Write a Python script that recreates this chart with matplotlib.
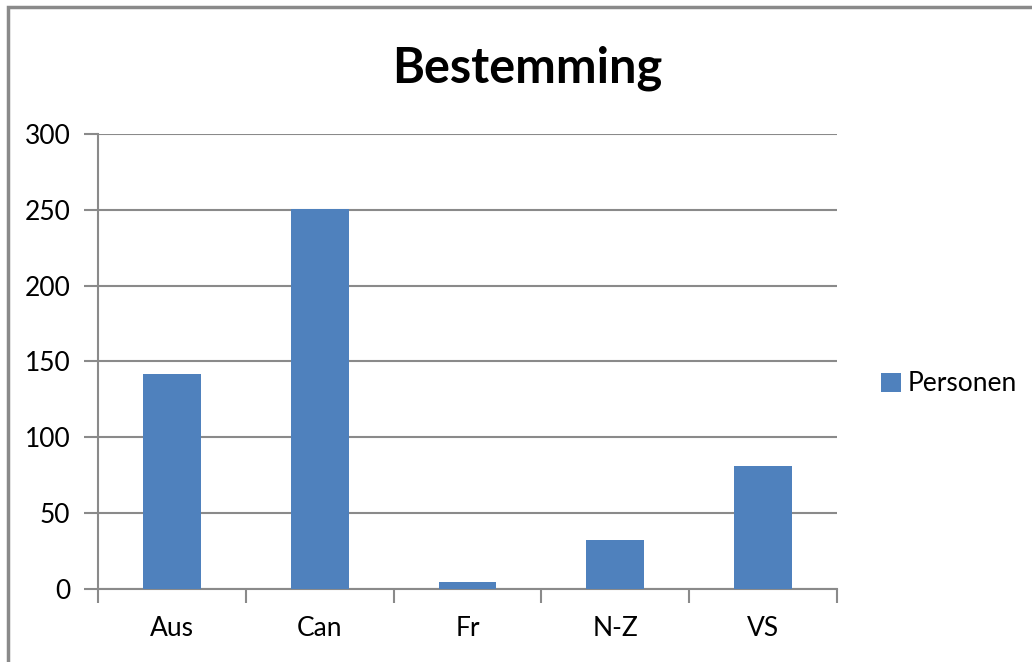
import matplotlib.pyplot as plt
from matplotlib.patches import Rectangle

# Gegevens
categorieen = ["Aus", "Can", "Fr", "N-Z", "VS"]
personen = [142, 251, 4, 32, 81]
y_ticks = [0, 50, 100, 150, 200, 250, 300]

plt.rcParams["font.family"] = ["Lato", "DejaVu Sans"]

fig = plt.figure(figsize=(10.32, 6.62), dpi=100)
ax = fig.add_axes([0.095, 0.111, 0.716, 0.686])

# buitenrand van de grafiek
fig.patches.append(Rectangle((0.008, -0.05), 1.2, 1.04, transform=fig.transFigure,
                             fill=False, edgecolor="#8a8a8a", linewidth=2.5))

x = range(len(categorieen))
ax.bar(x, personen, width=0.39, color="#4f81bd", label="Personen", zorder=3)

ax.set_xlim(-0.5, len(categorieen) - 0.5)
ax.set_ylim(0, 300)
ax.set_yticks(y_ticks)
ax.set_xticks([i + 0.5 for i in range(-1, len(categorieen))], minor=False)
ax.set_xticklabels([])
ax.set_xticks(list(x), minor=True)
ax.set_xticklabels(categorieen, minor=True)
ax.tick_params(axis="x", which="minor", length=0, pad=20, labelsize=19)
ax.tick_params(axis="x", which="major", length=10, width=1.5, color="#8a8a8a")
ax.tick_params(axis="y", length=10, width=1.5, color="#8a8a8a", labelsize=19, pad=10)

ax.grid(axis="y", color="#8a8a8a", linewidth=1.5, zorder=0)
for s in ["top", "right"]:
    ax.spines[s].set_visible(False)
for s in ["left", "bottom"]:
    ax.spines[s].set_color("#8a8a8a")
    ax.spines[s].set_linewidth(1.5)

fig.text(0.511, 0.897, "Bestemming", ha="center", va="center", fontsize=35, fontweight="bold")

fig.legend(loc="center left", bbox_to_anchor=(0.831, 0.42), frameon=False, fontsize=19,
           handlelength=0.75, handleheight=0.75, handletextpad=0.25)

fig.savefig("out.png", dpi=100)
